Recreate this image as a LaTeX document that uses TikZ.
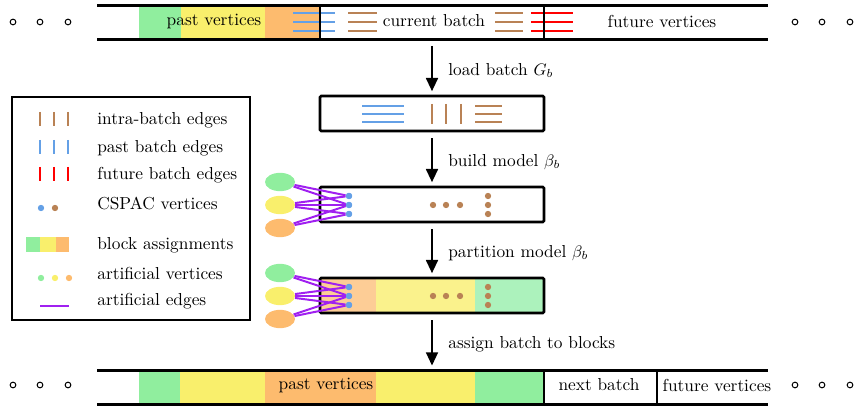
\documentclass[tikz,border=0pt]{standalone}
\usetikzlibrary{arrows.meta,shapes.geometric}
\definecolor{cgreen}{RGB}{144,238,158}
\definecolor{cyellow}{RGB}{249,239,108}
\definecolor{corange}{RGB}{253,187,110}
\definecolor{lgreen}{RGB}{172,242,188}
\definecolor{lyellow}{RGB}{250,242,140}
\definecolor{lorange}{RGB}{253,205,150}
\definecolor{cblue}{RGB}{100,160,230}
\definecolor{cbrown}{RGB}{185,130,85}
\definecolor{cpurple}{RGB}{160,32,240}
\tikzset{
  stripline/.style={line width=1.8pt},
  sepline/.style={line width=1.4pt},
  stagebox/.style={draw, line width=1.6pt, rounded corners=0.8pt, minimum width=134.4pt, minimum height=21pt, inner sep=0pt},
  arr/.style={line width=1.6pt, -{Triangle[length=8pt,width=7pt]}, shorten >=2pt},
  lbl/.style={anchor=west, inner sep=0pt},
  edgeln/.style={line width=1.1pt},
  cdot/.style={circle, fill=#1, minimum size=3.8pt, inner sep=0pt},
  odot/.style={circle, draw, line width=0.6pt, minimum size=3.4pt, inner sep=0pt},
  artv/.style={ellipse, fill=#1, minimum width=18pt, minimum height=11pt, inner sep=0pt},
  artedge/.style={cpurple, line width=1.2pt},
  txt/.style={inner sep=0pt},
}
\begin{document}
\begin{tikzpicture}[x=0.6pt,y=-0.6pt,every node/.append style={font=\fontsize{10.4pt}{12.5pt}\selectfont}]
\useasboundingbox (0,0) rectangle (854,410);

% ---------- top strip ----------
\fill[cgreen] (139,6) rectangle (181,40);
\fill[cyellow] (181,6) rectangle (265,40);
\fill[corange] (265,6) rectangle (320,40);
\foreach \y in {13,22,31} {
  \draw[cblue, edgeln] (293,\y) -- (335,\y);
  \draw[cbrown, edgeln] (348,\y) -- (377,\y);
  \draw[cbrown, edgeln] (495,\y) -- (523,\y);
  \draw[red, edgeln] (531,\y) -- (573,\y);
}
\draw[sepline] (320,6) -- (320,40);
\draw[sepline] (544,6) -- (544,40);
\draw[stripline] (97,6) -- (768,6);
\draw[stripline] (97,40) -- (768,40);
\node[txt] (tpast) at (214,21) {past vertices};
\node[txt] (tcur) at (434,21) {current batch};
\node[txt] (tfut) at (662,21) {future vertices};
\foreach \x/\n in {13/a,40/b,68/c,795/d,822/e,850/f} \node[odot] (td\n) at (\x,22) {};
\coordinate (s0) at (432,46);

% ---------- box 1 ----------
\node[stagebox] (b1) at (432,113.5) {};
\foreach \y in {106,114,122} {
  \draw[cblue, edgeln] (362,\y) -- (404,\y);
  \draw[cbrown, edgeln] (475,\y) -- (502,\y);
}
\foreach \x in {432,446,461} \draw[cbrown, edgeln] (\x,104) -- (\x,124);
\draw[arr] (s0) -- (b1.north) node[lbl, pos=0.5, right=9pt] (l1) {load batch $G_b$};

% ---------- box 2 ----------
\node[stagebox] (b2) at (432,204.5) {};
\draw[arr] ([yshift=-3.6pt]b1.south) -- (b2.north) node[lbl, pos=0.5, right=9pt] (l2) {build model $\beta_b$};
\node[cdot=cblue] (p1) at (349,196) {};
\node[cdot=cblue] (p2) at (349,205) {};
\node[cdot=cblue] (p3) at (349,214) {};
\foreach \x/\n in {433/a,446/b,460/c} \node[cdot=cbrown] (bh\n) at (\x,205) {};
\foreach \y/\n in {196/a,205/b,214/c} \node[cdot=cbrown] (bv\n) at (488,\y) {};
\node[artv=cgreen] (ag1) at (280,182) {};
\node[artv=cyellow] (ay1) at (280,205) {};
\node[artv=corange] (ao1) at (280,228) {};
\foreach \a/\p in {ag1/p1,ag1/p2,ay1/p1,ay1/p2,ay1/p3,ao1/p2,ao1/p3} \draw[artedge] (\a) -- (\p);
\foreach \p in {p1,p2,p3} \node[cdot=cblue] at (\p) {};

% ---------- box 3 ----------
\fill[lorange] (320,278) rectangle (376,313);
\fill[lyellow] (376,278) rectangle (475,313);
\fill[lgreen] (475,278) rectangle (544,313);
\node[stagebox] (b3) at (432,295.5) {};
\draw[arr] ([yshift=-3.6pt]b2.south) -- (b3.north) node[lbl, pos=0.5, right=9pt] (l3) {partition model $\beta_b$};
\node[cdot=cblue] (q1) at (349,287) {};
\node[cdot=cblue] (q2) at (349,296) {};
\node[cdot=cblue] (q3) at (349,305) {};
\foreach \x/\n in {433/a,446/b,460/c} \node[cdot=cbrown] (ch\n) at (\x,296) {};
\foreach \y/\n in {287/a,296/b,305/c} \node[cdot=cbrown] (cv\n) at (488,\y) {};
\node[artv=cgreen] (ag2) at (280,273) {};
\node[artv=cyellow] (ay2) at (280,296) {};
\node[artv=corange] (ao2) at (280,319) {};
\foreach \a/\p in {ag2/q1,ag2/q2,ay2/q1,ay2/q2,ay2/q3,ao2/q2,ao2/q3} \draw[artedge] (\a) -- (\p);
\foreach \p in {q1,q2,q3} \node[cdot=cblue] at (\p) {};

% ---------- bottom strip ----------
\fill[cgreen] (139,370) rectangle (180,404);
\fill[cyellow] (180,370) rectangle (265,404);
\fill[corange] (265,370) rectangle (376,404);
\fill[cyellow] (376,370) rectangle (475,404);
\fill[cgreen] (475,370) rectangle (544,404);
\draw[sepline] (544,370) -- (544,404);
\draw[sepline] (657,370) -- (657,404);
\draw[stripline] (97,370) -- (768,370);
\draw[stripline] (97,404) -- (768,404);
\coordinate (s4) at (432,369);
\draw[arr] ([yshift=-3.6pt]b3.south) -- (s4) node[lbl, pos=0.5, right=9pt] (l4) {assign batch to blocks};
\node[txt] (bpast) at (326,385) {past vertices};
\node[txt] (bnext) at (599,385) {next batch};
\node[txt] (bfut) at (717,385) {future vertices};
\foreach \x/\n in {13/a,40/b,68/c,795/d,822/e,850/f} \node[odot] (bd\n) at (\x,385) {};

% ---------- legend ----------
\node[draw, line width=1.2pt, minimum width=143pt, minimum height=134pt, inner sep=0pt] (leg) at (131,208.5) {};
\foreach \x in {40,54,68} {
  \draw[cbrown, edgeln] (\x,112) -- (\x,126);
  \draw[cblue, edgeln] (\x,140) -- (\x,154);
  \draw[red, edgeln] (\x,167) -- (\x,181);
}
\node[lbl] (li1) at (97,120) {intra-batch edges};
\node[lbl] (li2) at (97,148) {past batch edges};
\node[lbl] (li3) at (97,175) {future batch edges};
\node[cdot=cblue] (lc1) at (41,208) {};
\node[cdot=cbrown] (lc2) at (55,208) {};
\node[lbl] (li4) at (97,203) {CSPAC vertices};
\fill[cgreen] (26,237) rectangle (40,252);
\fill[cyellow] (40,237) rectangle (56,252);
\fill[corange] (56,237) rectangle (69,252);
\node[lbl] (li5) at (97,245) {block assignments};
\node[cdot=cgreen] (la1) at (41,278) {};
\node[cdot=cyellow] (la2) at (55,278) {};
\node[cdot=corange] (la3) at (69,278) {};
\node[lbl] (li6) at (97,273) {artificial vertices};
\coordinate (le1) at (40,306);
\coordinate (le2) at (69,306);
\draw[artedge] (le1) -- (le2);
\node[lbl] (li7) at (97,301) {artificial edges};
\end{tikzpicture}
\end{document}
